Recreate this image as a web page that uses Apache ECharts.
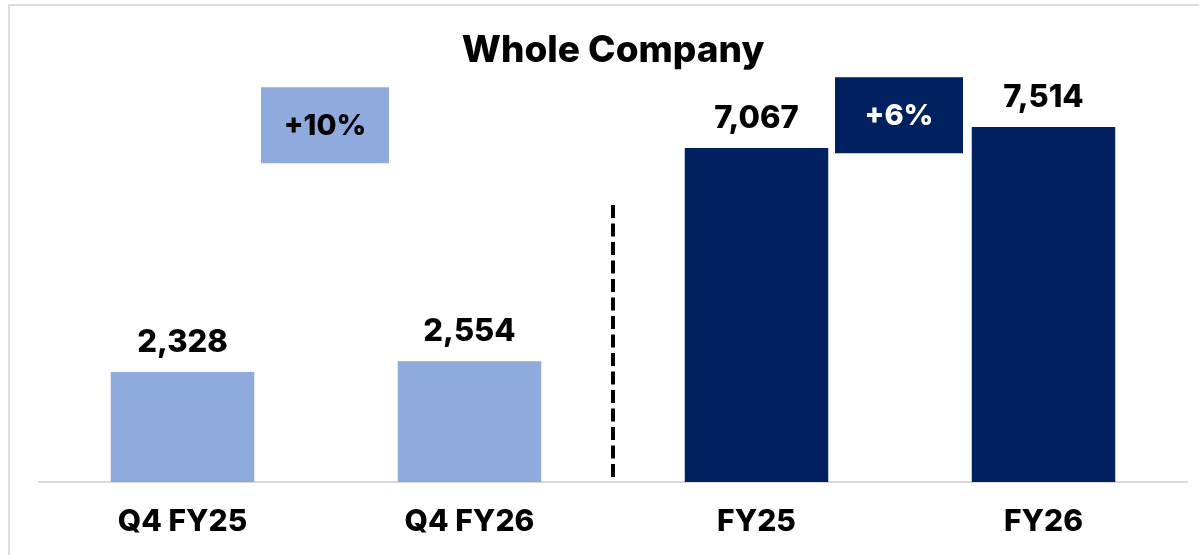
<!DOCTYPE html>
<html>
<head>
<meta charset="utf-8">
<script src="https://cdn.jsdelivr.net/npm/echarts@6/dist/echarts.min.js"></script>
<style>
  html, body { margin: 0; padding: 0; background: #ffffff; }
  #chart { width: 1199px; height: 555px; }
</style>
</head>
<body>
<div id="chart"></div>
<script>
// Revenue by period (whole company)
const categories = ['Q4 FY25', 'Q4 FY26', 'FY25', 'FY26'];
const values = [2328, 2554, 7067, 7514];
const barColors = ['#8FAADC', '#8FAADC', '#00205F', '#00205F'];

// Growth call-outs: [from index, to index]
const growthPairs = [[0, 1], [2, 3]];
const growthBoxFill = ['#8FAADC', '#00205F'];
const growthTextColor = ['#000000', '#ffffff'];
const growthBoxLevel = [7550, 7760]; // vertical centre of each call-out, in axis units

const FONT = 'Inter, "Noto Sans", sans-serif';
const WEIGHT = 800;

const chart = echarts.init(document.getElementById('chart'), null, { renderer: 'canvas' });

chart.setOption({
  backgroundColor: '#ffffff',
  animation: false,
  title: {
    text: 'Whole Company',
    left: 608,
    textAlign: 'center',
    top: 27,
    textStyle: { fontFamily: FONT, fontWeight: WEIGHT, fontSize: 37, color: '#000000' }
  },
  grid: { left: 39, right: 12, top: 104, bottom: 73 },
  xAxis: {
    type: 'category',
    data: categories,
    axisLine: { lineStyle: { color: '#D9D9D9', width: 2 } },
    axisTick: { show: false },
    axisLabel: {
      margin: 25,
      fontFamily: FONT,
      fontWeight: WEIGHT,
      fontSize: 30,
      color: '#000000'
    }
  },
  yAxis: {
    type: 'value',
    min: 0,
    max: 8000,
    show: false,
    splitLine: { show: false }
  },
  series: [{
    type: 'bar',
    barWidth: '50%',
    data: values.map((v, i) => ({ value: v, itemStyle: { color: barColors[i] } })),
    label: {
      show: true,
      position: 'top',
      distance: 14,
      fontFamily: FONT,
      fontWeight: WEIGHT,
      fontSize: 31,
      color: '#000000',
      formatter: p => p.value.toLocaleString('en-US')
    }
  }]
});

function drawOverlay() {
  const elements = [];

  // frame around the chart
  elements.push({
    type: 'rect',
    shape: { x: 9, y: 5, width: 1199, height: 560 },
    style: { fill: null, stroke: '#DCDCDC', lineWidth: 2 },
    silent: true
  });

  // dashed divider between quarterly and full-year bars
  const xa = chart.convertToPixel({ xAxisIndex: 0 }, categories[1]);
  const xb = chart.convertToPixel({ xAxisIndex: 0 }, categories[2]);
  const base = chart.convertToPixel({ yAxisIndex: 0 }, 0);
  elements.push({
    type: 'line',
    shape: { x1: (xa + xb) / 2, y1: 205, x2: (xa + xb) / 2, y2: base - 2 },
    style: { stroke: '#000000', lineWidth: 4, lineDash: [13, 5.5] },
    silent: true
  });

  // growth call-out boxes
  growthPairs.forEach(([a, b], k) => {
    const x1 = chart.convertToPixel({ xAxisIndex: 0 }, categories[a]);
    const x2 = chart.convertToPixel({ xAxisIndex: 0 }, categories[b]);
    const cy = chart.convertToPixel({ yAxisIndex: 0 }, growthBoxLevel[k]);
    const pct = Math.round((values[b] / values[a] - 1) * 100);
    const w = 128, h = 76;
    const cx = (x1 + x2) / 2 - 1;
    elements.push({
      type: 'rect',
      shape: { x: cx - w / 2, y: cy - h / 2, width: w, height: h },
      style: { fill: growthBoxFill[k] },
      silent: true
    });
    elements.push({
      type: 'text',
      x: cx,
      y: cy + 1,
      style: {
        text: '+' + pct + '%',
        fill: growthTextColor[k],
        font: WEIGHT + ' 29px ' + FONT,
        align: 'center',
        verticalAlign: 'middle'
      },
      silent: true
    });
  });

  chart.setOption({ graphic: { elements } });
}

drawOverlay();
</script>
</body>
</html>
